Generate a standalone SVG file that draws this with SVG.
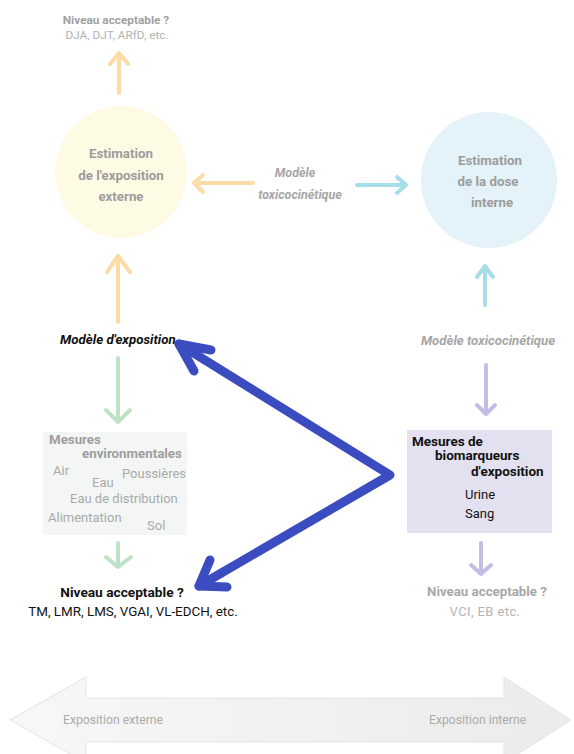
<svg xmlns="http://www.w3.org/2000/svg" width="574" height="754" viewBox="0 0 574 754">
<defs>
<style>
text{font-family:Roboto,"Liberation Sans",sans-serif;}
.g{fill:#9c9c9c;font-weight:bold;font-size:13.3px;text-anchor:middle;}
.lg{fill:#b3b3b3;font-size:11.8px;}
.env{fill:#aaaaaa;font-size:13px;}
.envb{fill:#9e9e9e;font-size:13.3px;font-weight:bold;}
.blk{fill:#111;font-size:13.5px;font-weight:bold;}
.arr{fill:none;stroke-width:4;stroke-linecap:round;stroke-linejoin:round;}
.or{stroke:#fcdca6;}
.cy{stroke:#a6dde6;}
.gr{stroke:#bfe2c6;}
.pu{stroke:#c5bde6;}
.blue{fill:none;stroke:#3b4cc0;stroke-width:9;stroke-linecap:round;stroke-linejoin:round;}
</style>
<linearGradient id="bg" x1="0" y1="0" x2="1" y2="0">
<stop offset="0" stop-color="#f7f7f7"/>
<stop offset="1" stop-color="#ebebeb"/>
</linearGradient>
</defs>
<rect width="574" height="754" fill="#ffffff"/>

<g id="bottom-scale">
<path d="M10,720 L86,677 L86,698 L504,698 L504,677 L571,720 L504,763 L504,742 L86,742 L86,763 Z" fill="url(#bg)" stroke="#e4e4e4" stroke-width="1"/>
<text x="63" y="724" style="fill:#ababab;font-size:12.2px;">Exposition externe</text>
<text x="429" y="724" style="fill:#ababab;font-size:12.2px;">Exposition interne</text>
</g>

<g id="niveau-top">
<text x="116" y="24" class="g" style="font-size:11.8px;fill:#a0a0a0">Niveau acceptable ?</text>
<text x="117" y="39" class="lg" text-anchor="middle">DJA, DJT, ARfD, etc.</text>
</g>

<g id="estimation-externe">
<circle cx="121" cy="172" r="66" fill="#fefbe5"/>
<text x="121" y="158" class="g">Estimation</text>
<text x="121" y="180" class="g">de l'exposition</text>
<text x="121" y="201" class="g">externe</text>
</g>

<g id="estimation-interne">
<circle cx="489" cy="180" r="68" fill="#e3f3f9"/>
<text x="490" y="165" class="g">Estimation</text>
<text x="488" y="186" class="g">de la dose</text>
<text x="492" y="207" class="g">interne</text>
</g>

<g id="modele-toxico-haut">
<text x="295" y="177" class="g" style="font-style:italic;fill:#a6a6a6;font-size:12.5px">Modèle</text>
<text x="300" y="199" class="g" style="font-style:italic;fill:#a6a6a6;font-size:12.5px">toxicocinétique</text>
</g>

<g id="modele-exposition">
<text x="60" y="344" class="blk" style="font-style:italic;font-size:13.3px">Modèle d'exposition</text>
</g>

<g id="modele-toxico-droite">
<text x="488" y="345" class="g" style="font-style:italic;fill:#a6a6a6;font-size:13.2px">Modèle toxicocinétique</text>
</g>

<g id="mesures-env">
<rect x="43" y="432" width="144" height="103" fill="#f3f6f4"/>
<text x="49" y="444" class="envb">Mesures</text>
<text x="82" y="458" class="envb">environmentales</text>
<text x="53" y="475" class="env">Air</text>
<text x="122" y="478" class="env">Poussières</text>
<text x="92" y="487" class="env">Eau</text>
<text x="70" y="503" class="env">Eau de distribution</text>
<text x="48" y="522" class="env">Alimentation</text>
<text x="147" y="530" class="env">Sol</text>
</g>

<g id="niveau-externe">
<text x="122" y="597" class="blk" text-anchor="middle" style="font-size:13.7px">Niveau acceptable ?</text>
<text x="133" y="616" style="fill:#111;font-size:13.4px;" text-anchor="middle">TM, LMR, LMS, VGAI, VL-EDCH, etc.</text>
</g>

<g id="biomarqueurs">
<rect x="407" y="430" width="145" height="103" fill="#e3e1ef"/>
<text x="412" y="446" class="blk">Mesures de</text>
<text x="435" y="460" class="blk">biomarqueurs</text>
<text x="471" y="476" class="blk">d'exposition</text>
<text x="465" y="499" style="fill:#111;font-size:13px;">Urine</text>
<text x="465" y="518" style="fill:#111;font-size:13px;">Sang</text>
</g>

<g id="niveau-interne">
<text x="487" y="596" class="g" style="fill:#a8a8a8">Niveau acceptable ?</text>
<text x="485" y="616" style="fill:#b3b3b3;font-size:13px;letter-spacing:0.4px" text-anchor="middle">VCI, EB etc.</text>
</g>

<g id="connectors">
<path class="arr or" d="M119,93 L119,53 M110,64 L119,53 L128,64"/>
<path class="arr or" d="M253,183 L194,183 M203,175 L194,183 L203,192"/>
<path class="arr cy" d="M357,185 L406,185 M397,177 L406,185 L397,193"/>
<path class="arr or" d="M118,322 L118,256 M107,272 L118,256 L130,272"/>
<path class="arr gr" d="M118,358 L118,422 M106,410 L118,422 L130,410"/>
<path class="arr gr" d="M118,543 L118,567 M106,557 L118,567 L131,557"/>
<path class="arr cy" d="M485,305 L485,266 M477,277 L485,266 L493,277"/>
<path class="arr pu" d="M486,365 L486,414 M477,405 L486,414 L495,405"/>
<path class="arr pu" d="M481,543 L481,574 M471,565 L481,574 L491,565"/>
<path class="blue" d="M179,344 L390,475 L199,586"/>
<path class="blue" d="M211,350 L179,344 L194,371"/>
<path class="blue" d="M210,560 L199,586 L227,587"/>
</g>
</svg>
